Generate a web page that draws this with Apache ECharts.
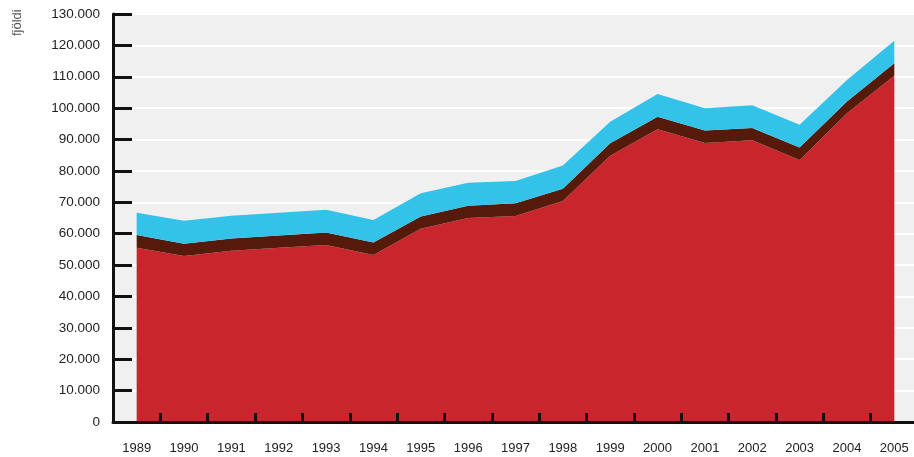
<!DOCTYPE html>
<html>
<head>
<meta charset="utf-8">
<script src="https://cdn.jsdelivr.net/npm/echarts@6/dist/echarts.min.js"></script>
<style>
  html, body { margin: 0; padding: 0; background: #ffffff; overflow: hidden; }
  #chart { width: 919px; height: 457px; }
</style>
</head>
<body>
<div id="chart"></div>
<script>
// Years on the horizontal axis
const years = ['1989','1990','1991','1992','1993','1994','1995','1996','1997','1998','1999','2000','2001','2002','2003','2004','2005'];

// Stacked layers (bottom to top)
const redLayer   = [55500, 52900, 54600, 55500, 56400, 53200, 61600, 65000, 65600, 70400, 84800, 93300, 88900, 89800, 83500, 98400, 110300];
const brownLayer = [4100, 3900, 3900, 3900, 4000, 4000, 3900, 3900, 4100, 3900, 4000, 4000, 4000, 3900, 4000, 3700, 4000];
const cyanLayer  = [7100, 7300, 7200, 7300, 7200, 7200, 7400, 7300, 7100, 7400, 6900, 7200, 7100, 7200, 7200, 6900, 7200];

const yAxisTitle = 'fjöldi';

// Thousands separated by a period: 130000 -> 130.000
function fmtThousands(v) {
  return String(v).replace(/\B(?=(\d{3})+(?!\d))/g, '.');
}

const chart = echarts.init(document.getElementById('chart'), null, { renderer: 'canvas' });

function layer(name, data, color) {
  return {
    name: name,
    type: 'line',
    stack: 'total',
    data: data,
    showSymbol: false,
    symbol: 'none',
    lineStyle: { width: 0 },
    areaStyle: { color: color, opacity: 1 },
    itemStyle: { color: color },
    emphasis: { disabled: true },
    animation: false
  };
}

chart.setOption({
  animation: false,
  backgroundColor: '#ffffff',
  grid: {
    left: 113, top: 14, right: 1, bottom: 35,
    show: true, backgroundColor: '#f0f0f0', borderWidth: 0
  },
  graphic: [{
    type: 'text',
    rotation: Math.PI / 2,
    x: 11, y: 36,
    style: {
      text: yAxisTitle,
      font: '13px "Liberation Sans", Arial, sans-serif',
      fill: '#555555'
    }
  }],
  xAxis: {
    type: 'category',
    data: years,
    boundaryGap: true,
    axisLine: { show: true, lineStyle: { color: '#111111', width: 3 } },
    axisTick: { show: true, inside: true, length: 9, lineStyle: { color: '#111111', width: 3 } },
    axisLabel: {
      margin: 20,
      color: '#222222',
      fontSize: 13,
      fontFamily: '"Liberation Sans", Arial, sans-serif'
    },
    splitLine: { show: false },
    z: 10
  },
  yAxis: {
    type: 'value',
    min: 0, max: 130000, interval: 10000,
    axisLine: { show: true, lineStyle: { color: '#111111', width: 3 } },
    axisTick: { show: true, inside: true, length: 19, lineStyle: { color: '#111111', width: 3 } },
    axisLabel: {
      margin: 13,
      color: '#222222',
      fontSize: 13.5,
      fontFamily: '"Liberation Sans", Arial, sans-serif',
      formatter: fmtThousands
    },
    splitLine: { show: true, lineStyle: { color: '#ffffff', width: 2 } },
    z: 0
  },
  series: [
    layer('red', redLayer, '#c8262c'),
    layer('brown', brownLayer, '#561a0a'),
    layer('cyan', cyanLayer, '#33c2e8')
  ]
});
</script>
</body>
</html>
